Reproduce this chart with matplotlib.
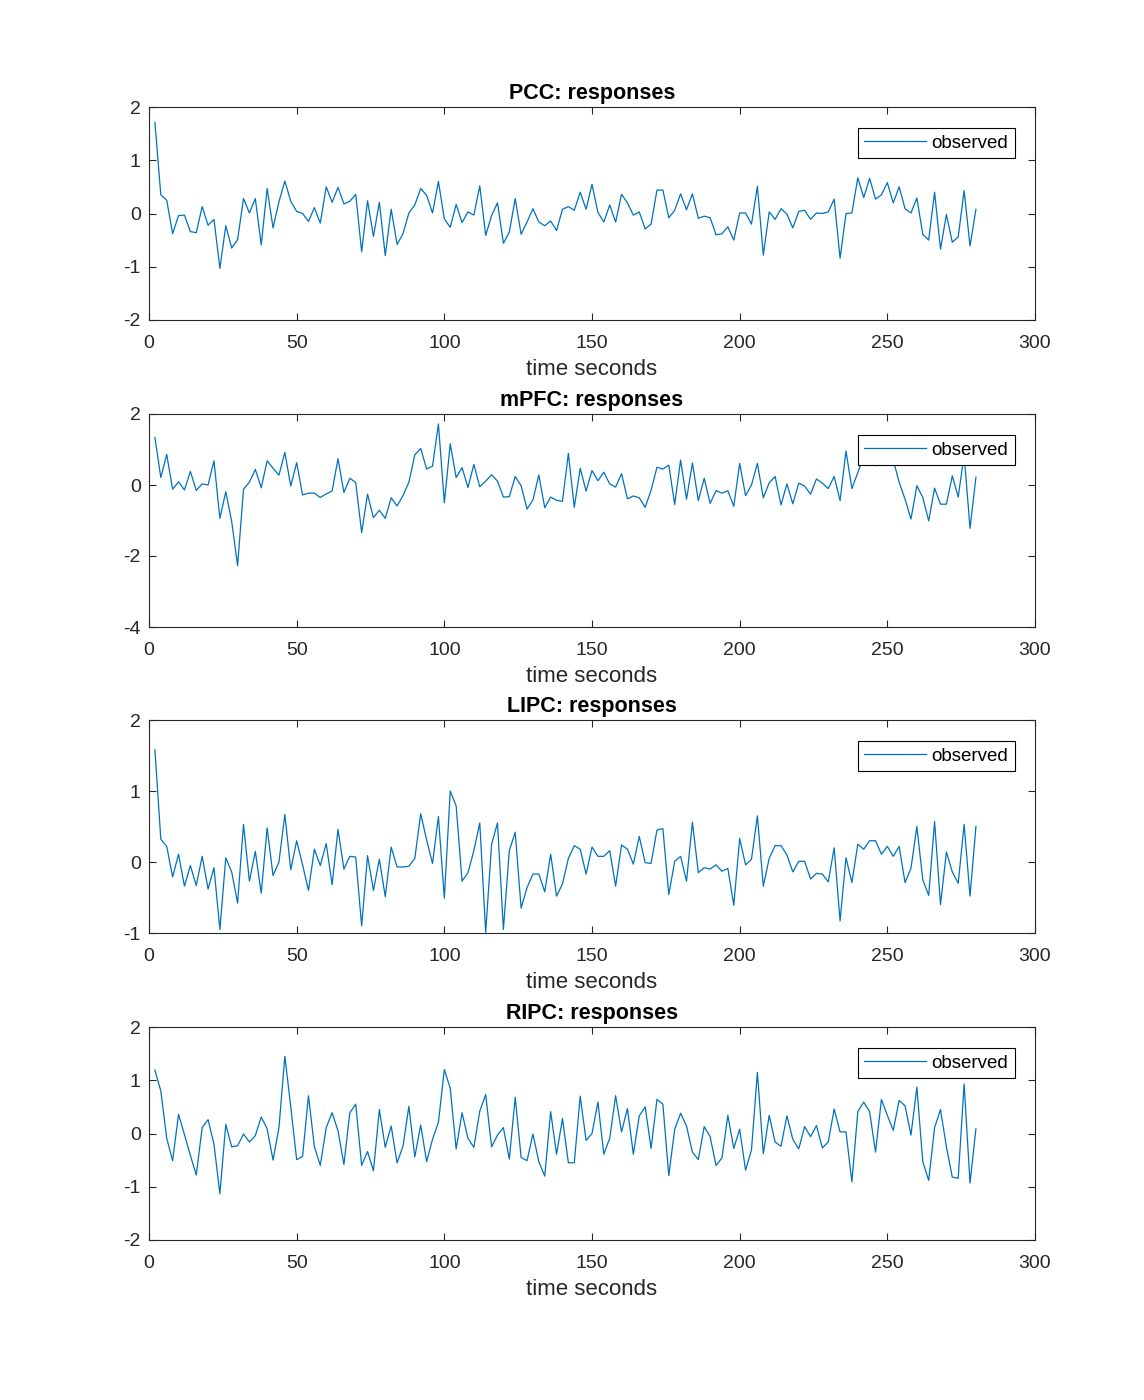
import numpy as np
import matplotlib
matplotlib.use("Agg")
import matplotlib.pyplot as plt

plt.rcParams["font.family"] = ["Liberation Sans", "DejaVu Sans"]
plt.rcParams["axes.unicode_minus"] = False

# sample times (s), one sample every 2 s
time_s = list(range(2, 281, 2))

pcc = [
    1.71, 0.35, 0.25, -0.38, -0.04, -0.03, -0.34, -0.36, 0.13, -0.22,
    -0.11, -1.03, -0.23, -0.65, -0.49, 0.28, 0.01, 0.28, -0.59, 0.47,
    -0.27, 0.22, 0.61, 0.23, 0.04, 0.00, -0.15, 0.11, -0.18, 0.50,
    0.21, 0.49, 0.18, 0.23, 0.36, -0.72, 0.24, -0.43, 0.21, -0.79,
    0.08, -0.58, -0.38, 0.01, 0.16, 0.47, 0.34, 0.01, 0.60, -0.10,
    -0.26, 0.17, -0.17, 0.03, -0.03, 0.52, -0.41, -0.04, 0.20, -0.56,
    -0.35, 0.28, -0.39, -0.16, 0.09, -0.16, -0.23, -0.14, -0.32, 0.08,
    0.13, 0.06, 0.40, 0.08, 0.55, 0.02, -0.16, 0.16, -0.16, 0.36,
    0.20, -0.03, 0.03, -0.29, -0.20, 0.44, 0.44, -0.08, 0.06, 0.37,
    0.07, 0.37, -0.09, -0.05, -0.08, -0.40, -0.38, -0.25, -0.50, 0.01,
    0.01, -0.20, 0.51, -0.78, 0.03, -0.11, 0.09, -0.01, -0.27, 0.04,
    0.06, -0.11, 0.01, 0.00, 0.03, 0.27, -0.84, 0.00, 0.01, 0.67,
    0.30, 0.66, 0.27, 0.35, 0.58, 0.20, 0.50, 0.09, 0.01, 0.29,
    -0.39, -0.50, 0.40, -0.67, -0.02, -0.54, -0.44, 0.43, -0.61, 0.08,
]

mpfc = [
    1.34, 0.21, 0.86, -0.12, 0.09, -0.14, 0.38, -0.15, 0.03, 0.00,
    0.68, -0.94, -0.19, -1.03, -2.27, -0.12, 0.08, 0.44, -0.08, 0.68,
    0.47, 0.28, 0.92, -0.03, 0.63, -0.28, -0.23, -0.23, -0.35, -0.25,
    -0.17, 0.74, -0.21, 0.19, 0.07, -1.34, -0.26, -0.92, -0.71, -0.94,
    -0.36, -0.59, -0.30, 0.08, 0.85, 1.03, 0.45, 0.53, 1.72, -0.50,
    1.16, 0.21, 0.49, -0.07, 0.58, -0.05, 0.11, 0.29, 0.11, -0.34,
    -0.33, 0.24, -0.02, -0.68, -0.42, 0.28, -0.64, -0.34, -0.43, -0.46,
    0.89, -0.63, 0.47, -0.17, 0.41, 0.12, 0.36, 0.03, -0.06, 0.32,
    -0.39, -0.31, -0.36, -0.63, -0.15, 0.50, 0.45, 0.56, -0.55, 0.70,
    -0.40, 0.62, -0.44, 0.19, -0.52, -0.16, -0.23, -0.16, -0.60, 0.61,
    -0.30, 0.00, 0.61, -0.36, 0.06, 0.24, -0.56, 0.03, -0.53, 0.05,
    -0.03, -0.26, 0.17, 0.05, -0.10, 0.24, -0.44, 0.96, -0.10, 0.35,
    0.80, 0.90, 0.54, 0.75, 0.90, 0.70, 0.08, -0.40, -0.96, -0.02,
    -0.35, -1.01, -0.09, -0.54, -0.54, 0.26, -0.34, 0.85, -1.22, 0.22,
]

lipc = [
    1.58, 0.32, 0.22, -0.21, 0.11, -0.34, -0.05, -0.33, 0.08, -0.38,
    -0.08, -0.95, 0.06, -0.14, -0.58, 0.53, -0.27, 0.15, -0.44, 0.48,
    -0.19, 0.00, 0.67, -0.11, 0.30, -0.04, -0.40, 0.18, -0.05, 0.26,
    -0.32, 0.46, -0.10, 0.08, 0.07, -0.90, 0.09, -0.40, 0.04, -0.49,
    0.21, -0.07, -0.07, -0.06, 0.05, 0.68, 0.31, -0.02, 0.64, -0.51,
    1.00, 0.79, -0.27, -0.15, 0.16, 0.55, -0.99, 0.25, 0.55, -0.95,
    0.16, 0.42, -0.65, -0.36, -0.17, -0.17, -0.42, 0.11, -0.48, -0.31,
    0.05, 0.23, 0.18, -0.17, 0.21, 0.08, 0.08, 0.16, -0.34, 0.24,
    0.18, -0.03, 0.36, -0.01, -0.02, 0.45, 0.47, -0.46, 0.01, 0.08,
    -0.27, 0.56, -0.15, -0.08, -0.10, -0.04, -0.13, -0.09, -0.61, 0.33,
    -0.04, 0.04, 0.65, -0.34, 0.05, 0.23, 0.23, 0.10, -0.14, 0.01,
    0.01, -0.24, -0.16, -0.17, -0.28, 0.20, -0.83, 0.06, -0.29, 0.25,
    0.18, 0.30, 0.30, 0.11, 0.22, 0.08, 0.22, -0.29, -0.09, 0.50,
    -0.25, -0.47, 0.57, -0.60, 0.14, -0.14, -0.30, 0.53, -0.48, 0.50,
]

ripc = [
    1.19, 0.80, -0.09, -0.51, 0.36, -0.02, -0.41, -0.78, 0.11, 0.26,
    -0.20, -1.13, 0.17, -0.25, -0.23, -0.01, -0.16, -0.04, 0.31, 0.09,
    -0.50, 0.11, 1.45, 0.50, -0.49, -0.43, 0.71, -0.25, -0.60, 0.11,
    0.39, 0.05, -0.58, 0.39, 0.55, -0.60, -0.34, -0.70, 0.45, -0.26,
    0.14, -0.55, -0.24, 0.51, -0.44, 0.16, -0.53, -0.11, 0.21, 1.20,
    0.85, -0.29, 0.39, -0.09, -0.26, 0.42, 0.73, -0.25, -0.03, 0.11,
    -0.48, 0.68, -0.45, -0.51, -0.01, -0.53, -0.80, 0.41, -0.39, 0.28,
    -0.55, -0.55, 0.70, -0.13, 0.00, 0.59, -0.39, -0.09, 0.71, 0.03,
    0.47, -0.39, 0.33, 0.50, -0.28, 0.64, 0.55, -0.79, 0.08, 0.38,
    0.14, -0.35, -0.49, 0.13, -0.06, -0.60, -0.46, 0.34, -0.28, 0.08,
    -0.69, -0.31, 1.15, -0.38, 0.34, -0.16, -0.24, 0.33, -0.11, -0.29,
    0.13, -0.06, 0.15, -0.27, -0.16, 0.46, 0.03, 0.03, -0.91, 0.41,
    0.59, 0.41, -0.35, 0.64, 0.34, 0.06, 0.62, 0.52, -0.03, 0.87,
    -0.53, -0.88, 0.11, 0.45, -0.25, -0.82, -0.84, 0.93, -0.93, 0.09,
]

regions = ["PCC", "mPFC", "LIPC", "RIPC"]
series = [pcc, mpfc, lipc, ripc]
y_limits = [(-2, 2), (-4, 2), (-1, 2), (-2, 2)]
y_ticks = [[-2, -1, 0, 1, 2], [-4, -2, 0, 2], [-1, 0, 1, 2], [-2, -1, 0, 1, 2]]
x_ticks = [0, 50, 100, 150, 200, 250, 300]

line_color = "#0072BD"
axis_color = "#262626"

fig = plt.figure(figsize=(11.44, 14), dpi=100)

W, H = 1144.0, 1400.0
left_px, right_px = 149, 1035
tops_px = [107, 414, 720, 1027]
height_px = 213

for i in range(4):
    top = tops_px[i]
    ax = fig.add_axes([left_px / W, 1 - (top + height_px) / H,
                       (right_px - left_px) / W, height_px / H])
    ax.plot(time_s, series[i], color=line_color, lw=0.9, label="observed")
    ax.set_xlim(0, 300)
    ax.set_ylim(*y_limits[i])
    ax.set_xticks(x_ticks)
    ax.set_yticks(y_ticks[i])
    ax.tick_params(direction="in", top=True, right=True, length=5, width=0.8,
                   labelsize=14, colors=axis_color, labelcolor=axis_color)
    ax.tick_params(axis="x", pad=11)
    ax.tick_params(axis="y", pad=6)
    for s in ax.spines.values():
        s.set_color(axis_color)
        s.set_linewidth(0.8)
    ax.set_xlabel("time seconds", fontsize=16, color=axis_color, labelpad=5)
    ax.set_title(f"{regions[i]}: responses", fontsize=15.5, fontweight="bold",
                 pad=6)
    leg = ax.legend(loc="upper right", bbox_to_anchor=(1 - 20 / 886, 1 - 21 / 213),
                    borderaxespad=0, fancybox=False, framealpha=1,
                    edgecolor="black", fontsize=13.5, handlelength=3.3,
                    borderpad=0.35, handletextpad=0.3)
    leg.get_frame().set_linewidth(0.8)

fig.savefig("out.png", dpi=100)
